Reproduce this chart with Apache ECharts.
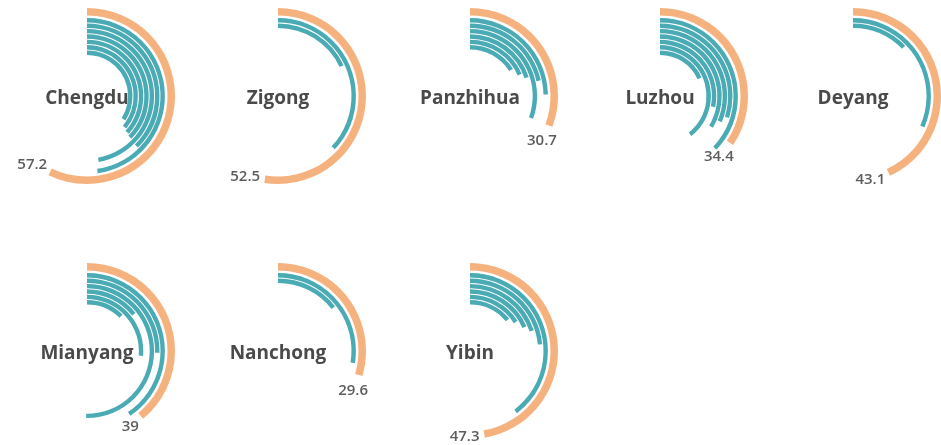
<!DOCTYPE html>
<html>
<head>
<meta charset="utf-8">
<script src="https://cdn.jsdelivr.net/npm/echarts@6/dist/echarts.min.js"></script>
<style>
  html, body { margin: 0; padding: 0; background: #ffffff; }
  #chart { width: 941px; height: 445px; }
</style>
</head>
<body>
<div id="chart"></div>
<script>
// Cities, one small radial multiple each
const cities = ['Chengdu', 'Zigong', 'Panzhihua', 'Luzhou', 'Deyang', 'Mianyang', 'Nanchong', 'Yibin'];

// City-level value (outer orange ring, labelled)
const totals = [57.2, 52.5, 30.7, 34.4, 43.1, 39, 29.6, 47.3];

// Sub-area values, listed from the outermost teal ring inward
const chengduParts   = [47.8, 37.6, 47.2, 37.2, 36.7, 36, 34];
const zigongParts    = [37, 18];
const panzhihuaParts = [24.7, 21.5, 30.5, 20, 18.5, 16];
const luzhouParts    = [37.1, 29.9, 31.4, 33.6, 28.2, 39.4, 18.3];
const deyangParts    = [31.6, 12.8];
const mianyangParts  = [40.6, 25.4, 50.2, 14.4, 26.4, 12.3];
const nanchongParts  = [27.5, 14.4];
const yibinParts     = [39.7, 23.5, 20, 18.4, 16, 14];
const parts = [chengduParts, zigongParts, panzhihuaParts, luzhouParts,
               deyangParts, mianyangParts, nanchongParts, yibinParts];

// Layout of the grid of multiples
const colX = [87, 278, 470, 660, 853];
const rowY = [96, 351];
const SLOTS = 7;                 // teal ring slots per multiple
const ORANGE = '#F5B27F';
const TEAL = '#4AABB5';
const FONT = '"Open Sans", "Noto Sans", sans-serif';
const VALUE_SIZE = 15;

// text width helper for placing value labels just past the arc end
const measureCtx = document.createElement('canvas').getContext('2d');
measureCtx.font = '600 ' + VALUE_SIZE + 'px ' + FONT;
function textWidth(s) { return measureCtx.measureText(s).width; }

// offset of a value label along the clockwise tangent at the arc end
function endLabelOffset(value) {
  const a = value / 100 * 2 * Math.PI;
  const tx = Math.cos(a), ty = Math.sin(a);
  const w = textWidth(String(value));
  return [tx * (w / 2 + 5), ty * (VALUE_SIZE / 2 + 9)];
}

const polar = [], angleAxis = [], radiusAxis = [], series = [], graphic = [];

cities.forEach((name, i) => {
  const cx = colX[i % 5];
  const cy = rowY[Math.floor(i / 5)];
  const pOuter = polar.length;
  const pInner = pOuter + 1;

  // outer ring band and the band holding the inner rings
  polar.push({ center: [cx, cy], radius: [80.5, 88] });
  polar.push({ center: [cx, cy], radius: [40.6, 78.4] });

  [pOuter, pInner].forEach(p => {
    angleAxis.push({ polarIndex: p, type: 'value', min: 0, max: 100,
                     startAngle: 90, clockwise: true, show: false });
  });
  radiusAxis.push({ polarIndex: pOuter, type: 'category', data: [name], show: false });

  // inner rings: category index 0 is innermost, so reverse and pad
  const list = parts[i];
  const padded = new Array(SLOTS - list.length).fill(null).concat(list.slice().reverse());
  radiusAxis.push({ polarIndex: pInner, type: 'category',
                    data: padded.map((_, k) => name + ' ' + k), show: false });

  series.push({
    type: 'bar', coordinateSystem: 'polar', polarIndex: pOuter,
    data: [totals[i]], barCategoryGap: '0%',
    itemStyle: { color: ORANGE },
    silent: true
  });
  series.push({
    type: 'bar', coordinateSystem: 'polar', polarIndex: pInner,
    data: padded, barWidth: 4.4,
    itemStyle: { color: TEAL },
    silent: true
  });
  // value label sitting at the end of the outer ring
  series.push({
    type: 'scatter', coordinateSystem: 'polar', polarIndex: pOuter,
    symbolSize: 0.1, itemStyle: { color: 'rgba(0,0,0,0)' },
    data: [{ value: [0, totals[i]], label: { offset: endLabelOffset(totals[i]) } }],
    label: { show: true, position: 'inside', align: 'center', verticalAlign: 'middle',
             color: '#333333', fontSize: VALUE_SIZE, fontWeight: 600, fontFamily: FONT,
             formatter: p => String(p.value[1]) },
    silent: true
  });

  graphic.push({
    type: 'text', x: cx, y: cy + 3, silent: true,
    style: { text: name, align: 'center', verticalAlign: 'middle',
             fill: '#4a4a4a', fontSize: 19, fontWeight: 'bold', fontFamily: FONT }
  });
});

const chart = echarts.init(document.getElementById('chart'), null, { renderer: 'canvas' });
chart.setOption({
  animation: false,
  backgroundColor: '#ffffff',
  polar, angleAxis, radiusAxis, series, graphic
});
</script>
</body>
</html>
